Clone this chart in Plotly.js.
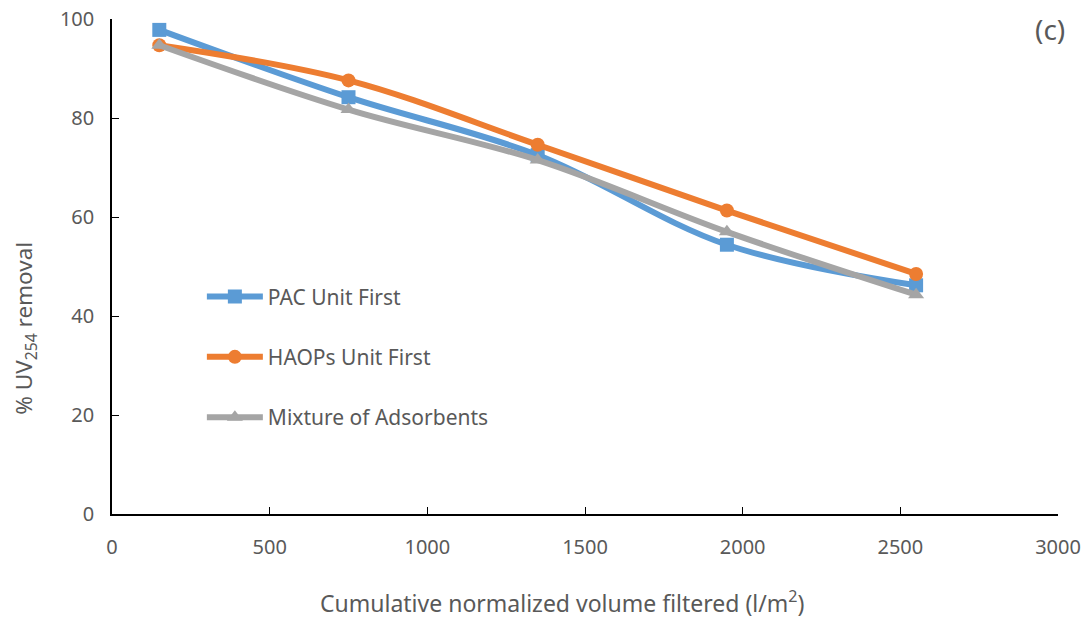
<!DOCTYPE html>
<html><head><meta charset="utf-8">
<script src="https://cdn.plot.ly/plotly-3.0.1.min.js"></script>
<style>html,body{margin:0;padding:0;background:#fff}#chart{width:1085px;height:619px}</style>
</head><body><div id="chart"></div>
<script>
const volume = [150, 750, 1350, 1950, 2550];
const pacFirst = [97.8, 84.2, 72.5, 54.4, 46.2];
const haopsFirst = [94.7, 87.6, 74.6, 61.3, 48.5];
const mixture = [94.7, 81.7, 71.5, 57.0, 44.3];
const seriesNames = ["PAC Unit First", "HAOPs Unit First", "Mixture of Adsorbents"];
const xTitle = "Cumulative normalized volume filtered (l/m<sup>2</sup>)";
const yTitle = "% UV<sub>254</sub> removal";

const font = "Noto Sans, Open Sans, sans-serif";
const colors = ["#5B9BD5", "#ED7D31", "#A5A5A5"];
const symbols = ["square", "circle", "triangle-up"];
const ys = [pacFirst, haopsFirst, mixture];

const traces = ys.map((y, i) => ({
  x: volume, y: y, name: seriesNames[i], type: "scatter", mode: "lines+markers",
  legendgroup: "g" + i,
  line: {color: colors[i], width: 6, shape: "spline", smoothing: 1},
  marker: {color: colors[i], symbol: symbols[i], size: 14}
}));

const layout = {
  width: 1085, height: 619,
  margin: {l: 112, r: 27, t: 19, b: 105},
  paper_bgcolor: "#fff", plot_bgcolor: "#fff",
  font: {family: font, color: "#595959", size: 20},
  showlegend: true,
  legend: {x: 0.095, y: 0.48, xanchor: "left", yanchor: "top", bgcolor: "rgba(0,0,0,0)",
           font: {size: 21, color: "#595959", family: font}, tracegroupgap: 30, itemwidth: 56},
  xaxis: {range: [0, 3000], tickvals: [0,500,1000,1500,2000,2500,3000], showgrid: false, zeroline: false,
          showline: true, linecolor: "#000", linewidth: 1.5, ticks: "inside", ticklen: 7, tickcolor: "#000",
          tickfont: {size: 20, color: "#595959"}, ticklabelstandoff: 14},
  yaxis: {range: [0, 100], tickvals: [0,20,40,60,80,100], showgrid: false, zeroline: false,
          showline: true, linecolor: "#000", linewidth: 1.5, ticks: "inside", ticklen: 7, tickcolor: "#000",
          tickfont: {size: 20, color: "#595959"}, ticklabelstandoff: 12},
  annotations: [
    {text: "(c)", xref: "paper", yref: "paper", x: 1.0095, y: 0.98, xanchor: "right", yanchor: "middle",
     showarrow: false, font: {size: 28, color: "#595959", family: font}},
    {text: xTitle, xref: "paper", yref: "paper", x: 0.476, y: -0.177, xanchor: "center", yanchor: "middle",
     showarrow: false, font: {size: 23, color: "#595959", family: font}},
    {text: yTitle, xref: "paper", yref: "paper", x: -0.092, y: 0.376, xanchor: "center", yanchor: "middle",
     textangle: -90, showarrow: false, font: {size: 22.5, color: "#595959", family: font}}
  ]
};
Plotly.newPlot("chart", traces, layout, {displayModeBar: false});
</script></body></html>
